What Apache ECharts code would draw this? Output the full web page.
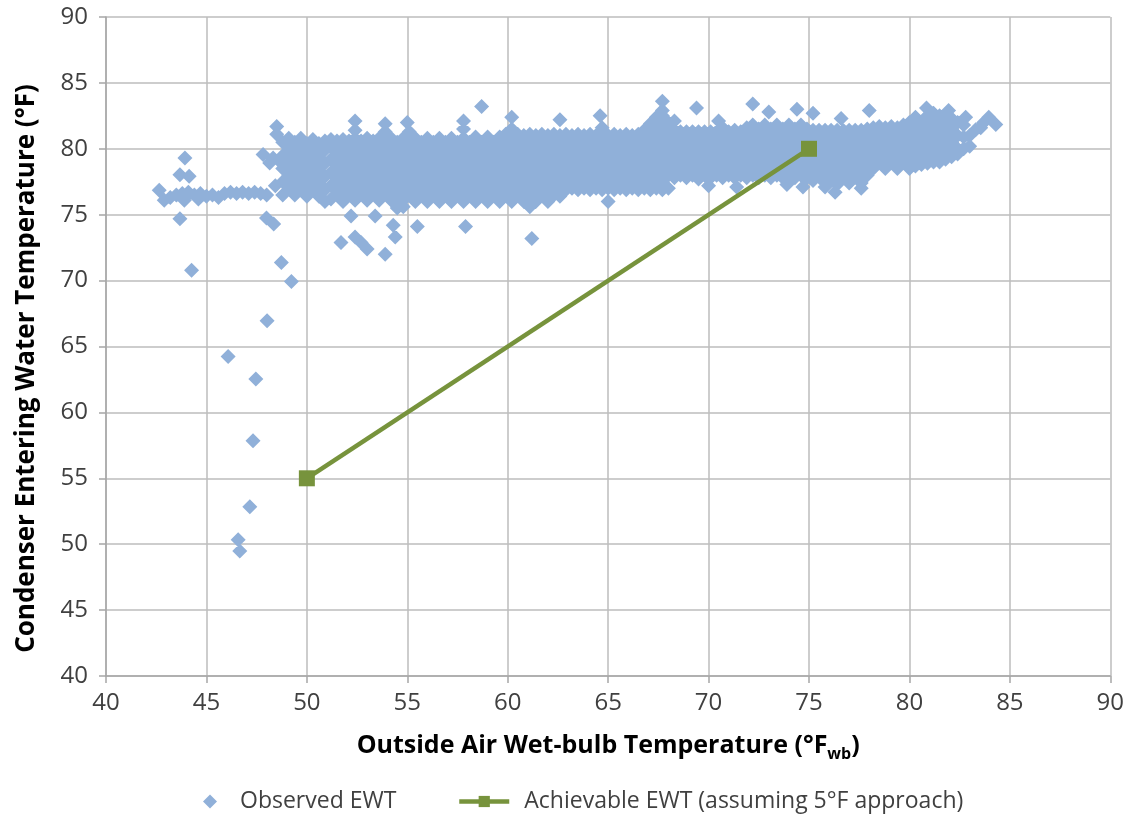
<!DOCTYPE html>
<html>
<head>
<meta charset="utf-8">
<script src="https://cdn.jsdelivr.net/npm/echarts@6/dist/echarts.min.js"></script>
<style>
html, body { margin: 0; padding: 0; background: #fff; }
#chart { width: 1127px; height: 814px; }
</style>
</head>
<body>
<div id="chart"></div>
<script>
// observed EWT: [wet-bulb °F, EWT °F]
var obsLeft = [
  [42.65, 76.85], [42.9, 76.1], [43.2, 76.3], [43.5, 76.5], [43.8, 76.6], [44.1, 76.7],
  [44.4, 76.5], [44.7, 76.6], [45.0, 76.4], [45.3, 76.5], [45.6, 76.3], [45.9, 76.6],
  [46.2, 76.7], [46.5, 76.6], [46.8, 76.7], [47.1, 76.6], [47.4, 76.7], [47.7, 76.6],
  [48.0, 76.5], [43.9, 76.1], [44.6, 76.2], [43.93, 79.3], [43.68, 78.04], [44.14, 77.91],
  [43.68, 74.7], [47.82, 79.56], [48.32, 79.31], [48.73, 78.93], [48.15, 78.93],
  [48.43, 77.2], [47.99, 74.75], [48.35, 74.3]
];
var obsDrop = [
  [44.26, 70.78], [48.73, 71.38], [49.23, 69.94], [48.02, 66.96], [46.08, 64.24],
  [47.46, 62.53], [47.32, 57.84], [47.16, 52.85], [46.58, 50.33], [46.66, 49.49]
];
var obsHigh = [
  [48.5, 81.7], [48.5, 81.1], [52.4, 82.1], [53.9, 81.9], [55.0, 82.0], [57.8, 82.1],
  [58.7, 83.2], [60.2, 82.4], [62.6, 82.2], [64.6, 82.5], [67.7, 83.6], [68.3, 82.1],
  [69.4, 83.1], [70.5, 82.1], [72.2, 83.4], [73.0, 82.8], [74.4, 83.0], [75.2, 82.7],
  [76.6, 82.3], [78.0, 82.9], [80.85, 83.1], [81.95, 82.9], [82.8, 82.4],
  [83.3, 81.45], [83.55, 81.6], [83.7, 82.0], [83.95, 82.4], [84.3, 81.85]
];
var obsLow = [
  [51.7, 72.9], [52.2, 74.9], [52.4, 73.3], [52.7, 72.9], [53.0, 72.4], [53.4, 74.9],
  [53.9, 72.0], [54.3, 74.2], [54.4, 73.3], [55.5, 74.1], [57.9, 74.1], [61.1, 75.6],
  [61.2, 73.2], [65.0, 76.0], [70.0, 77.2], [71.4, 77.1], [73.9, 77.3], [74.7, 77.1],
  [75.8, 77.1], [76.3, 76.7], [77.6, 77.0]
];
// the dense band, one column per row: [wet-bulb, EWT, EWT, ...]
var bandA = [
  [48.8, 76.5, 77.5, 78.5, 79.5, 80.5],
  [49.1, 77.0, 78.0, 79.0, 80.0, 80.8],
  [49.4, 76.5, 77.5, 78.5, 79.5, 80.5],
  [49.7, 77.0, 78.0, 79.0, 80.0, 80.8],
  [50.0, 76.4, 77.4, 78.4, 79.4, 80.4],
  [50.3, 76.9, 77.9, 78.9, 79.9, 80.7],
  [50.6, 76.4, 77.4, 78.4, 79.4, 80.4],
  [50.9, 76.0, 76.9, 77.9, 78.9, 79.9, 80.6],
  [51.2, 76.2, 77.2, 78.2, 79.2, 80.2, 80.7],
  [51.5, 76.6, 77.6, 78.6, 79.6, 80.6],
  [51.8, 76.0, 77.1, 78.1, 79.1, 80.1, 80.7],
  [52.1, 76.6, 77.6, 78.6, 79.6, 80.6],
  [52.4, 76.1, 77.1, 78.1, 79.1, 80.1, 80.8, 81.4],
  [52.7, 76.6, 77.6, 78.6, 79.6, 80.6],
  [53.0, 76.1, 77.1, 78.1, 79.1, 80.1, 80.8],
  [53.3, 76.6, 77.6, 78.6, 79.6, 80.6],
  [53.6, 76.1, 77.1, 78.1, 79.1, 80.1, 80.8],
  [53.9, 76.6, 77.6, 78.6, 79.6, 80.6, 81.3],
  [54.2, 76.1, 77.1, 78.1, 79.1, 80.1, 80.8],
  [54.5, 75.5, 76.5, 77.5, 78.5, 79.5, 80.5],
  [54.8, 75.6, 76.1, 77.1, 78.1, 79.1, 80.1, 80.8],
  [55.1, 76.5, 77.5, 78.5, 79.5, 80.5, 81.3]
];
var bandB = [
  [55.4, 76.0, 77.0, 78.0, 79.0, 80.0, 80.8],
  [55.7, 76.5, 77.5, 78.5, 79.5, 80.5],
  [56.0, 76.0, 77.0, 78.0, 79.0, 80.0, 80.8],
  [56.3, 76.5, 77.5, 78.5, 79.5, 80.5],
  [56.6, 76.0, 77.0, 78.0, 79.0, 80.0, 80.8],
  [56.9, 76.5, 77.5, 78.5, 79.5, 80.5],
  [57.2, 76.0, 77.0, 78.0, 79.0, 80.0, 80.8],
  [57.5, 76.5, 77.5, 78.5, 79.5, 80.5],
  [57.8, 76.0, 77.0, 78.0, 79.0, 80.0, 80.8, 81.5],
  [58.1, 76.5, 77.5, 78.5, 79.5, 80.5],
  [58.4, 76.0, 77.0, 78.0, 79.0, 80.0, 80.9],
  [58.7, 76.5, 77.5, 78.5, 79.5, 80.5],
  [59.0, 76.0, 77.0, 78.0, 79.0, 80.0, 80.9],
  [59.3, 76.5, 77.5, 78.5, 79.5, 80.5],
  [59.6, 76.0, 77.0, 78.0, 79.0, 80.0, 80.9],
  [59.9, 76.5, 77.5, 78.5, 79.5, 80.5, 81.1],
  [60.2, 76.0, 77.0, 78.0, 79.0, 80.0, 81.0, 81.5],
  [60.5, 76.5, 77.5, 78.5, 79.5, 80.5, 81.1],
  [60.8, 76.0, 77.0, 78.0, 79.0, 80.0, 81.0],
  [61.1, 76.5, 77.5, 78.5, 79.5, 80.5, 81.1],
  [61.4, 76.0, 77.0, 78.0, 79.0, 80.0, 81.0],
  [61.7, 76.5, 77.5, 78.5, 79.5, 80.5, 81.1],
  [62.0, 76.0, 77.0, 78.0, 79.0, 80.0, 81.0]
];
var bandC = [
  [62.3, 76.5, 77.5, 78.5, 79.5, 80.5, 81.1],
  [62.6, 76.4, 77.0, 78.0, 79.0, 80.0, 81.0],
  [62.9, 76.9, 77.5, 78.5, 79.5, 80.5, 81.1],
  [63.2, 77.0, 78.0, 79.0, 80.0, 81.0],
  [63.5, 76.9, 77.5, 78.5, 79.5, 80.5, 81.1],
  [63.8, 77.0, 78.0, 79.0, 80.0, 81.0],
  [64.1, 76.9, 77.5, 78.5, 79.5, 80.5, 81.1],
  [64.4, 77.0, 78.0, 79.0, 80.0, 81.0],
  [64.7, 76.9, 77.5, 78.5, 79.5, 80.5, 81.6],
  [65.0, 77.0, 78.0, 79.0, 80.0, 81.0],
  [65.3, 76.9, 77.5, 78.5, 79.5, 80.5, 81.1],
  [65.6, 77.0, 78.0, 79.0, 80.0, 81.0],
  [65.9, 76.9, 77.5, 78.5, 79.5, 80.5, 81.1],
  [66.2, 77.0, 78.0, 79.0, 80.0, 81.0],
  [66.5, 76.9, 77.5, 78.5, 79.5, 80.5, 81.1],
  [66.8, 77.0, 78.0, 79.0, 80.0, 81.0, 81.4],
  [67.1, 76.9, 77.5, 78.5, 79.5, 80.5, 81.5, 81.9],
  [67.4, 77.0, 78.0, 79.0, 80.0, 81.0, 82.0, 82.4],
  [67.7, 76.9, 77.5, 78.5, 79.5, 80.5, 81.5, 82.5, 82.9],
  [68.0, 77.0, 78.0, 79.0, 80.0, 81.0, 82.0]
];
var bandD = [
  [68.3, 77.8, 78.5, 79.5, 80.5, 81.5],
  [68.6, 78.0, 79.0, 80.0, 81.0, 81.3],
  [68.9, 77.8, 78.5, 79.5, 80.5, 81.3],
  [69.2, 78.0, 79.0, 80.0, 81.0, 81.3],
  [69.5, 77.7, 78.5, 79.5, 80.5, 81.3],
  [69.8, 78.0, 79.0, 80.0, 81.0, 81.3],
  [70.1, 77.8, 78.5, 79.5, 80.5, 81.3],
  [70.4, 78.0, 79.0, 80.0, 81.0, 81.3],
  [70.7, 77.8, 78.5, 79.5, 80.5, 81.6],
  [71.0, 78.0, 79.0, 80.0, 81.0, 81.3],
  [71.3, 77.8, 78.5, 79.5, 80.5, 81.4],
  [71.6, 78.0, 79.0, 80.0, 81.0, 81.3],
  [71.9, 77.8, 78.5, 79.5, 80.5, 81.6],
  [72.2, 78.0, 79.0, 80.0, 81.0, 81.8],
  [72.5, 77.8, 78.5, 79.5, 80.5, 81.5],
  [72.8, 78.0, 79.0, 80.0, 81.0, 81.8],
  [73.1, 77.8, 78.5, 79.5, 80.5, 81.5],
  [73.4, 78.0, 79.0, 80.0, 81.0, 81.8],
  [73.7, 77.8, 78.5, 79.5, 80.5, 81.5],
  [74.0, 78.0, 79.0, 80.0, 81.0, 81.8],
  [74.3, 77.8, 78.5, 79.5, 80.5, 81.5],
  [74.6, 78.0, 79.0, 80.0, 81.0, 81.8],
  [74.9, 77.8, 78.5, 79.5, 80.5, 81.5]
];
var bandE = [
  [75.2, 77.6, 78.0, 79.0, 80.0, 81.0, 81.4],
  [75.5, 77.9, 78.5, 79.5, 80.5, 81.4],
  [75.8, 77.4, 78.0, 79.0, 80.0, 81.0, 81.4],
  [76.1, 77.9, 78.5, 79.5, 80.5, 81.4],
  [76.4, 77.3, 78.0, 79.0, 80.0, 81.0, 81.4],
  [76.7, 77.9, 78.5, 79.5, 80.5, 81.4],
  [77.0, 77.4, 78.0, 79.0, 80.0, 81.0, 81.4],
  [77.3, 77.9, 78.5, 79.5, 80.5, 81.4],
  [77.6, 77.4, 78.0, 79.0, 80.0, 81.0, 81.4],
  [77.9, 78.0, 78.5, 79.5, 80.5, 81.5],
  [78.2, 78.5, 79.0, 80.0, 81.0, 81.6],
  [78.5, 79.0, 79.5, 80.5, 81.5, 81.7],
  [78.8, 78.5, 79.0, 80.0, 81.0, 81.6],
  [79.1, 79.0, 79.5, 80.5, 81.5, 81.7],
  [79.4, 78.5, 79.0, 80.0, 81.0, 81.6],
  [79.7, 79.0, 79.5, 80.5, 81.5, 81.8],
  [80.0, 78.5, 79.0, 80.0, 81.0, 82.0],
  [80.3, 78.7, 79.5, 80.5, 81.5, 82.4],
  [80.6, 78.8, 79.0, 80.0, 81.0, 82.0],
  [80.9, 78.9, 79.5, 80.5, 81.5, 82.5],
  [81.2, 79.0, 80.0, 81.0, 82.0, 82.7],
  [81.5, 79.0, 79.5, 80.5, 81.5, 82.5],
  [81.8, 79.2, 80.0, 81.0, 82.0, 82.6],
  [82.1, 79.4, 80.5, 81.5, 82.3],
  [82.4, 79.6, 80.0, 81.0, 82.0],
  [82.7, 80.0, 80.9, 81.8],
  [83.0, 80.2, 81.0]
];
// achievable EWT line (5°F approach)
var achX = [50, 75];
var achY = [55, 80];

var font = '"Open Sans", "Liberation Sans", sans-serif';
var blue = '#90b0d9';
var green = '#77933c';

function colsToPoints(cols) {
  var pts = [];
  cols.forEach(function (c) {
    for (var i = 1; i < c.length; i++) pts.push([c[0], c[i]]);
  });
  return pts;
}

var observed = [].concat(
  colsToPoints(bandA), colsToPoints(bandB), colsToPoints(bandC),
  colsToPoints(bandD), colsToPoints(bandE),
  obsLeft, obsDrop, obsHigh, obsLow
);
var achievable = achX.map(function (x, i) { return [x, achY[i]]; });

var chart = echarts.init(document.getElementById('chart'));

var axisCommon = {
  type: 'value',
  min: 40,
  max: 90,
  interval: 5,
  nameLocation: 'middle',
  axisLine: { show: true, lineStyle: { color: '#a6a6a6', width: 1.5 } },
  axisTick: { show: true, length: 7, lineStyle: { color: '#a6a6a6', width: 1.5 } },
  splitLine: { show: true, lineStyle: { color: '#bdbdbd', width: 1.5 } },
  axisLabel: { color: '#404040', fontSize: 24, fontFamily: font },
  nameTextStyle: { color: '#000', fontSize: 25, fontWeight: 'bold', fontFamily: font }
};

var option = {
  animation: false,
  backgroundColor: '#fff',
  grid: { left: 106, right: 15, top: 17, bottom: 138 },
  legend: [
    {
      data: [{ name: 'Observed EWT', icon: 'diamond' }],
      left: 198,
      top: 785,
      itemWidth: 14,
      itemHeight: 14,
      textStyle: { color: '#404040', fontSize: 23, fontFamily: font, padding: [0, 0, 0, 18] }
    },
    {
      data: ['Achievable EWT (assuming 5°F approach)'],
      left: 452,
      top: 785,
      itemWidth: 50,
      itemHeight: 14,
      lineStyle: { width: 4.5 },
      textStyle: { color: '#404040', fontSize: 23, fontFamily: font, padding: [0, 0, 0, 10] }
    }
  ],
  xAxis: Object.assign({}, axisCommon, {
    name: '{t|Outside Air Wet-bulb Temperature (°F}{sub|wb}{t|)}',
    nameGap: 54,
    axisLabel: Object.assign({}, axisCommon.axisLabel, { margin: 15 }),
    nameTextStyle: Object.assign({}, axisCommon.nameTextStyle, {
      rich: {
        t: { fontSize: 25, fontWeight: 'bold', fontFamily: font, color: '#000', lineHeight: 32, verticalAlign: 'middle' },
        sub: { fontSize: 16, fontWeight: 'bold', fontFamily: font, color: '#000', lineHeight: 16, verticalAlign: 'bottom' }
      }
    })
  }),
  yAxis: Object.assign({}, axisCommon, {
    name: 'Condenser Entering Water Temperature (°F)',
    nameRotate: 90,
    nameGap: 66,
    axisLabel: Object.assign({}, axisCommon.axisLabel, { margin: 18 }),
    nameTextStyle: Object.assign({}, axisCommon.nameTextStyle, { fontSize: 26, padding: [0, 44, 0, 0] })
  }),
  series: [
    {
      name: 'Observed EWT',
      type: 'scatter',
      symbol: 'diamond',
      symbolSize: 15,
      // one compound path, so overlapping diamonds fill without seams
      large: true,
      largeThreshold: 100,
      itemStyle: { color: blue, opacity: 1 },
      data: observed
    },
    {
      name: 'Achievable EWT (assuming 5°F approach)',
      type: 'line',
      symbol: 'rect',
      symbolSize: 16,
      lineStyle: { color: green, width: 4.5 },
      itemStyle: { color: green },
      data: achievable
    }
  ]
};

chart.setOption(option);
</script>
</body>
</html>
